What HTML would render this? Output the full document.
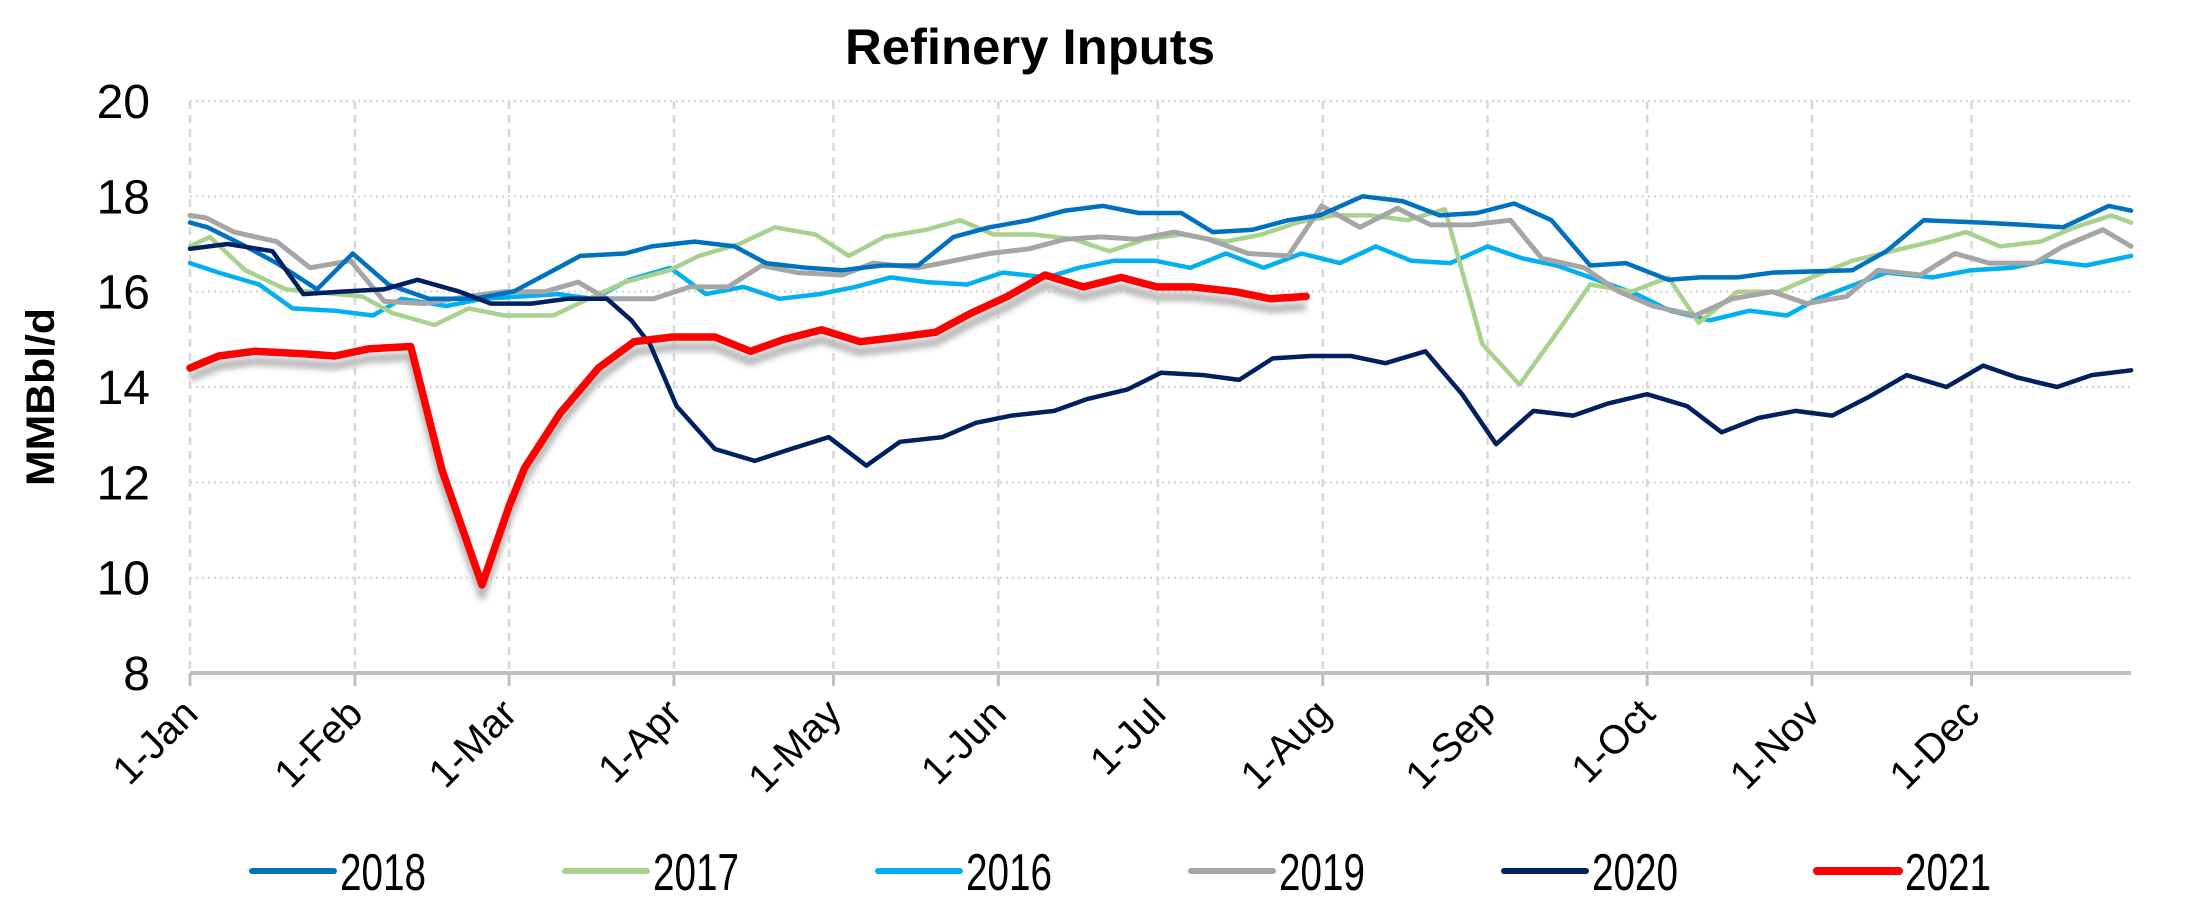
<!DOCTYPE html>
<html><head><meta charset="utf-8"><style>
html,body{margin:0;padding:0;background:#fff;}
svg{display:block;font-family:"Liberation Sans",sans-serif;}
</style></head><body>
<svg id="c" width="2193" height="900" viewBox="0 0 2193 900" xmlns="http://www.w3.org/2000/svg">
<defs><filter id="sh" x="-5%" y="-20%" width="110%" height="140%"><feGaussianBlur stdDeviation="3"/></filter></defs>
<text x="1030" y="64" text-anchor="middle" font-size="50" font-weight="bold" textLength="370" lengthAdjust="spacingAndGlyphs">Refinery Inputs</text>
<g id="grid"></g>
<g id="lines"></g>
<text transform="translate(54,397) rotate(-90)" text-anchor="middle" font-size="40" font-weight="bold" textLength="178" lengthAdjust="spacingAndGlyphs">MMBbl/d</text>
<g id="legend"></g>
</svg>
<script>
var NS="http://www.w3.org/2000/svg";
function X(d){return 190+d*5.318;}
function Y(v){return 101+(20-v)*47.67;}
function el(t,a,p,txt){var e=document.createElementNS(NS,t);for(var k in a)e.setAttribute(k,a[k]);if(txt!==undefined)e.textContent=txt;p.appendChild(e);return e;}
var g=document.getElementById('grid');
for(var v=10;v<=20;v+=2){el('line',{x1:190,x2:2131,y1:Y(v),y2:Y(v),stroke:'#d9d9d9','stroke-width':2.5,'stroke-dasharray':'2 4'},g);}
var months=[['1-Jan',0],['1-Feb',31],['1-Mar',60],['1-Apr',91],['1-May',121],['1-Jun',152],['1-Jul',182],['1-Aug',213],['1-Sep',244],['1-Oct',274],['1-Nov',305],['1-Dec',335]];
months.forEach(function(m){var x=X(m[1]);el('line',{x1:x,x2:x,y1:101,y2:673,stroke:'#d9d9d9','stroke-width':2.5,'stroke-dasharray':'8 6'},g);
el('line',{x1:x,x2:x,y1:673,y2:686,stroke:'#bfbfbf','stroke-width':3},g);
el('text',{transform:'translate('+(x+10)+',716) rotate(-45)','text-anchor':'end','font-size':40},g,m[0]);});
el('line',{x1:190,x2:2131,y1:673,y2:673,stroke:'#bfbfbf','stroke-width':4},g);
for(var v=8;v<=20;v+=2){el('text',{x:150,y:Y(v)+17,'text-anchor':'end','font-size':48},g,String(v));}
var S={
'2018':['#0070C0',[[0,17.45],[3.3,17.35],[9.6,17.0],[16.3,16.6],[23.9,16.05],[30.6,16.8],[37.3,16.15],[44.9,15.85],[53.3,15.85],[60.8,16.0],[66.7,16.35],[73.4,16.75],[81.8,16.8],[86.8,16.95],[94.9,17.05],[102.4,16.95],[108.3,16.6],[115.9,16.5],[122.6,16.45],[130.1,16.55],[136.9,16.55],[143.6,17.15],[150.3,17.35],[157.8,17.5],[164.6,17.7],[171.7,17.8],[178.4,17.65],[186.4,17.65],[192.3,17.25],[199.8,17.3],[206.5,17.5],[212.4,17.6],[220.5,18.0],[228,17.9],[235,17.6],[242,17.65],[249,17.85],[256,17.5],[263.3,16.55],[270,16.6],[278,16.25],[284,16.3],[291,16.3],[297.6,16.4],[312.6,16.45],[319,16.85],[326,17.5],[337,17.45],[345,17.4],[352.2,17.35],[360.8,17.8],[365,17.7]],4.5],
'2017':['#A9D18E',[[0,16.95],[3.7,17.15],[10.4,16.45],[18,16.05],[23,16.0],[32.3,15.9],[38.1,15.55],[46,15.3],[52.4,15.65],[59.1,15.5],[68.3,15.5],[75,15.85],[81.8,16.2],[90.2,16.45],[95.7,16.75],[103.3,17.0],[110,17.35],[117.6,17.2],[123.9,16.75],[130.6,17.15],[138.5,17.3],[144.8,17.5],[151.1,17.2],[158.7,17.2],[166.2,17.1],[172.9,16.85],[179.7,17.1],[186.4,17.2],[194.8,17.05],[201.5,17.2],[208.2,17.45],[215,17.6],[222,17.6],[229,17.5],[236,17.73],[243,14.9],[250,14.05],[257.4,15.2],[263.3,16.15],[271,16.0],[278,16.3],[283.7,15.35],[291,16.0],[298.7,16.0],[306,16.35],[312.6,16.65],[320,16.85],[327.6,17.05],[334,17.25],[340.4,16.95],[348,17.05],[354.4,17.35],[361.3,17.6],[365,17.45]],4.5],
'2016':['#00B0F0',[[0,16.6],[5.4,16.4],[13,16.15],[19.3,15.65],[27.2,15.6],[34.4,15.5],[39.8,15.85],[48.2,15.7],[55,15.85],[62.5,15.9],[69.2,15.95],[75.9,15.85],[82.6,16.25],[90.3,16.5],[97,15.95],[104.1,16.1],[110.8,15.85],[118.4,15.95],[125.1,16.1],[131.8,16.3],[138.5,16.2],[146.1,16.15],[152.8,16.4],[161.2,16.3],[167.1,16.5],[173.8,16.65],[181.4,16.65],[188.1,16.5],[194.8,16.8],[201.9,16.5],[209,16.8],[216.2,16.6],[223,16.95],[229.6,16.65],[237,16.6],[244,16.95],[250.5,16.7],[257,16.55],[263.3,16.3],[272,15.95],[278.3,15.6],[285.8,15.4],[293.3,15.6],[300.3,15.5],[306,15.85],[319,16.4],[327.6,16.3],[335,16.45],[342.6,16.5],[349,16.65],[356.5,16.55],[365,16.75]],4.5],
'2019':['#A5A5A5',[[0,17.6],[3,17.55],[8.3,17.25],[16.3,17.05],[22.6,16.5],[30.2,16.65],[36.5,15.8],[44,15.75],[52.4,15.9],[59.1,16.0],[66.7,16.0],[73,16.2],[78.4,15.85],[87.2,15.85],[94,16.1],[101.2,16.1],[107.5,16.55],[114.2,16.4],[122.6,16.35],[128.5,16.6],[136.9,16.5],[143.6,16.65],[150.3,16.8],[157.8,16.9],[164.6,17.1],[171.3,17.15],[178,17.1],[185.1,17.25],[191.4,17.1],[199,16.8],[206.5,16.75],[212.8,17.8],[220,17.35],[227,17.75],[233.3,17.4],[240.8,17.4],[248.3,17.5],[254.2,16.7],[262.2,16.5],[268.7,16.0],[275.1,15.7],[283.1,15.5],[290,15.85],[297.6,16.0],[304,15.75],[311.5,15.9],[317.4,16.45],[325.4,16.35],[331.9,16.8],[338.3,16.6],[346.9,16.6],[352.2,16.95],[359.7,17.3],[365,16.95]],5],
'2020':['#002060',[[0,16.9],[7.1,17.0],[15.5,16.85],[21.3,15.95],[28.1,16.0],[36.5,16.05],[42.8,16.25],[50.7,16.0],[56.6,15.75],[64.2,15.75],[70.9,15.85],[78.4,15.85],[83,15.4],[86.5,14.9],[91.5,13.6],[98.7,12.7],[106.2,12.45],[113,12.7],[120.1,12.95],[127.2,12.35],[133.5,12.85],[141.5,12.95],[147.8,13.25],[154.5,13.4],[162.5,13.5],[168.8,13.75],[176.3,13.95],[182.6,14.3],[190.6,14.25],[197.3,14.15],[203.6,14.6],[210.7,14.65],[218.3,14.65],[224.8,14.5],[232.3,14.75],[239.2,13.85],[245.6,12.8],[252.6,13.5],[260.1,13.4],[266.5,13.65],[274,13.85],[281.5,13.6],[288,13.05],[294.9,13.35],[301.9,13.5],[308.8,13.4],[315.8,13.8],[322.8,14.25],[330.3,14.0],[337.2,14.45],[343.6,14.2],[351.1,14.0],[357.6,14.25],[365,14.35]],4.5],
'2021':['#FF0000',[[0,14.4],[5.4,14.65],[12.1,14.75],[21.3,14.7],[27.2,14.65],[33.5,14.8],[41.5,14.85],[47.4,12.25],[54.9,9.85],[60,11.5],[62.9,12.3],[69.6,13.45],[76.8,14.4],[83.5,14.95],[90.7,15.05],[98.7,15.05],[105.4,14.75],[111.7,15.0],[118.8,15.2],[126,14.95],[133.5,15.05],[140.2,15.15],[146.9,15.55],[153.7,15.9],[160.8,16.35],[168,16.1],[175.1,16.3],[181.8,16.1],[188.5,16.1],[196.5,16.0],[203.2,15.85],[209.9,15.9]],7.5]
};
var L=document.getElementById('lines');
function pts(a,dy){return a.map(function(p){return X(p[0]).toFixed(1)+','+(Y(p[1])+dy).toFixed(1);}).join(' ');}
el('polyline',{points:pts(S['2021'][1],10),fill:'none',stroke:'#bbb','stroke-width':9,filter:'url(#sh)','stroke-linejoin':'round'},L);
['2016','2017','2019','2018','2020','2021'].forEach(function(k){var s=S[k];
el('polyline',{points:pts(s[1],0),fill:'none',stroke:s[0],'stroke-width':s[2],'stroke-linejoin':'round','stroke-linecap':'round'},L);});
var lg=document.getElementById('legend');
['2018','2017','2016','2019','2020','2021'].forEach(function(k,i){var x0=252+i*313;var s=S[k];
el('line',{x1:x0,x2:x0+82,y1:871,y2:871,stroke:s[0],'stroke-width':k=='2021'?8:6,'stroke-linecap':'round'},lg);
el('text',{x:x0+88,y:890,'font-size':52,textLength:86,lengthAdjust:'spacingAndGlyphs'},lg,k);});
</script>
</body></html>
